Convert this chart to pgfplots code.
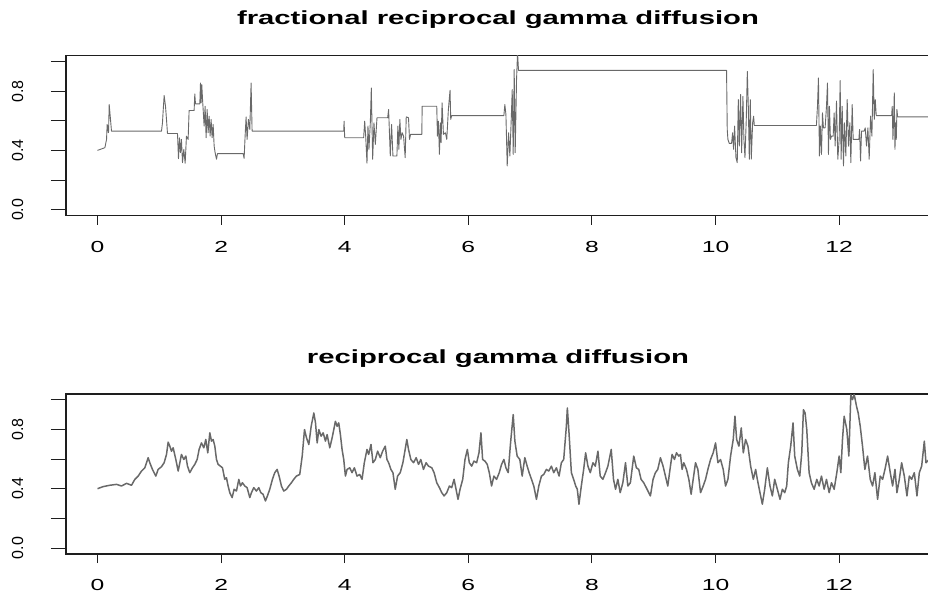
\documentclass[border=0pt]{standalone}
\usepackage{fontspec}
\setmainfont{Liberation Sans}
\newfontfamily\widefont{Liberation Sans}[FakeStretch=1.54]
\usepackage{pgfplots}
\pgfplotsset{compat=1.18}
\definecolor{serie}{RGB}{105,105,105}
\definecolor{frame}{RGB}{30,30,30}
\pgfplotsset{rstyle/.style={
  scale only axis, width=864pt, height=160pt,
  xmin=-0.51, xmax=13.47, ymin=-0.04, ymax=1.04,
  axis line style={line width=1.1pt, draw=frame},
  tick align=outside, xtick pos=bottom, ytick pos=left,
  xtick={0,2,4,6,8,10,12}, xticklabels={0,2,4,6,8,10,12},
  ytick={0,0.2,0.4,0.6,0.8,1}, yticklabels={0.0,,0.4,,0.8,},
  xtick style={line width=1.1pt, draw=frame, /pgfplots/major tick length=9pt},
  ytick style={line width=1.1pt, draw=frame, /pgfplots/major tick length=15pt},
  xticklabel style={font=\widefont\fontsize{16}{19}\selectfont, anchor=base, inner sep=0pt},
  yticklabel style={font=\fontsize{16}{19}\selectfont, rotate=90, anchor=base, inner sep=0pt},
  xticklabel shift=32.5pt, yticklabel shift=38.7pt,
  title style={font=\widefont\bfseries\fontsize{19}{23}\selectfont, at={(0.5,1)}, anchor=base, yshift=25pt},
}}
\begin{document}
\begin{tikzpicture}
\begin{axis}[rstyle, at={(66pt,-215.7pt)}, anchor=south west,
  title={fractional reciprocal gamma diffusion}]
\addplot[serie, line width=0.9pt, line join=round, no markers] coordinates {
(0,0.401) (0.119,0.419) (0.146,0.475) (0.156,0.576) (0.178,0.520) (0.189,0.710) (0.210,0.610) (0.226,0.531) (1.035,0.531) (1.051,0.587) (1.062,0.666) (1.078,0.771) (1.100,0.699) (1.116,0.610) (1.132,0.515) (1.294,0.515) (1.310,0.345) (1.326,0.486) (1.342,0.385) (1.358,0.475) (1.375,0.318) (1.396,0.408) (1.418,0.314) (1.439,0.497) (1.466,0.475) (1.482,0.670) (1.563,0.670) (1.574,0.782) (1.585,0.715) (1.655,0.715) (1.666,0.856) (1.677,0.722) (1.687,0.845) (1.698,0.755) (1.709,0.677) (1.725,0.565) (1.741,0.699) (1.757,0.486) (1.774,0.677) (1.790,0.520) (1.806,0.632) (1.822,0.497) (1.838,0.610) (1.854,0.486) (1.871,0.576) (1.887,0.430) (1.903,0.385) (1.925,0.341) (1.941,0.379) (2.356,0.379) (2.372,0.347) (2.388,0.497) (2.404,0.627) (2.420,0.475) (2.442,0.610) (2.464,0.542) (2.485,0.856) (2.501,0.531) (3.984,0.531) (3.989,0.598) (4.000,0.486) (4.306,0.486) (4.323,0.598) (4.339,0.497) (4.360,0.314) (4.376,0.565) (4.392,0.408) (4.414,0.587) (4.430,0.822) (4.452,0.341) (4.473,0.587) (4.495,0.441) (4.522,0.621) (4.694,0.621) (4.710,0.677) (4.737,0.363) (4.758,0.576) (4.780,0.363) (4.844,0.363) (4.860,0.565) (4.876,0.408) (4.892,0.610) (4.909,0.475) (4.930,0.520) (4.952,0.497) (4.978,0.352) (4.995,0.627) (5.032,0.621) (5.048,0.475) (5.065,0.509) (5.247,0.509) (5.253,0.699) (5.489,0.699) (5.500,0.497) (5.516,0.598) (5.532,0.374) (5.548,0.587) (5.559,0.453) (5.575,0.722) (5.597,0.509) (5.629,0.520) (5.651,0.475) (5.677,0.677) (5.704,0.807) (5.715,0.610) (5.731,0.636) (6.575,0.636) (6.591,0.710) (6.608,0.643) (6.629,0.296) (6.651,0.520) (6.672,0.363) (6.694,0.610) (6.710,0.811) (6.726,0.374) (6.742,0.946) (6.758,0.385) (6.780,0.878) (6.796,1.060) (6.812,0.941) (10.178,0.941) (10.189,0.542) (10.200,0.475) (10.222,0.448) (10.259,0.448) (10.276,0.520) (10.292,0.408) (10.308,0.565) (10.330,0.352) (10.351,0.318) (10.368,0.744) (10.384,0.430) (10.405,0.778) (10.422,0.385) (10.443,0.766) (10.459,0.475) (10.476,0.352) (10.497,0.610) (10.514,0.934) (10.530,0.699) (10.546,0.341) (10.562,0.744) (10.578,0.341) (10.600,0.587) (10.616,0.632) (10.627,0.569) (11.632,0.569) (11.649,0.699) (11.665,0.890) (11.681,0.363) (11.697,0.565) (11.714,0.374) (11.730,0.654) (11.746,0.553) (11.773,0.553) (11.795,0.699) (11.811,0.856) (11.827,0.374) (11.843,0.699) (11.859,0.475) (11.876,0.497) (11.903,0.497) (11.919,0.654) (11.935,0.430) (11.957,0.733) (11.978,0.341) (12.000,0.475) (12.016,0.872) (12.032,0.341) (12.049,0.699) (12.070,0.296) (12.086,0.587) (12.108,0.363) (12.130,0.744) (12.151,0.430) (12.173,0.587) (12.189,0.318) (12.211,0.710) (12.227,0.475) (12.319,0.475) (12.330,0.542) (12.346,0.329) (12.362,0.531) (12.405,0.531) (12.422,0.553) (12.443,0.430) (12.465,0.553) (12.486,0.341) (12.508,0.632) (12.530,0.497) (12.551,0.946) (12.568,0.610) (12.584,0.744) (12.600,0.636) (12.849,0.636) (12.859,0.699) (12.870,0.475) (12.881,0.610) (12.892,0.789) (12.903,0.408) (12.914,0.587) (12.924,0.475) (12.935,0.677) (12.946,0.627) (13.600,0.627)
};
\end{axis}
\begin{axis}[rstyle, at={(66pt,-554pt)}, anchor=south west,
  title={reciprocal gamma diffusion}]
\addplot[serie, line width=1.5pt, line join=round, no markers] coordinates {
(0,0.401) (0.092,0.415) (0.199,0.424) (0.307,0.430) (0.388,0.419) (0.469,0.437) (0.550,0.424) (0.604,0.464) (0.658,0.486) (0.712,0.520) (0.766,0.542) (0.819,0.610) (0.846,0.576) (0.889,0.531) (0.943,0.486) (0.981,0.531) (1.035,0.549) (1.078,0.576) (1.116,0.632) (1.143,0.715) (1.170,0.688) (1.197,0.654) (1.224,0.677) (1.267,0.598) (1.305,0.520) (1.332,0.576) (1.358,0.632) (1.396,0.598) (1.429,0.621) (1.456,0.553) (1.493,0.509) (1.536,0.542) (1.574,0.565) (1.612,0.598) (1.644,0.666) (1.682,0.710) (1.720,0.677) (1.752,0.733) (1.784,0.643) (1.817,0.778) (1.844,0.722) (1.871,0.733) (1.898,0.688) (1.925,0.598) (1.951,0.565) (1.989,0.553) (2.022,0.542) (2.059,0.464) (2.086,0.475) (2.113,0.419) (2.140,0.374) (2.178,0.341) (2.210,0.397) (2.248,0.385) (2.286,0.464) (2.313,0.419) (2.345,0.441) (2.383,0.419) (2.420,0.408) (2.464,0.341) (2.491,0.374) (2.528,0.408) (2.571,0.385) (2.609,0.408) (2.642,0.374) (2.679,0.363) (2.717,0.318) (2.749,0.352) (2.787,0.397) (2.830,0.464) (2.868,0.509) (2.906,0.531) (2.938,0.486) (2.976,0.419) (3.013,0.385) (3.057,0.397) (3.094,0.419) (3.137,0.441) (3.175,0.464) (3.218,0.486) (3.272,0.497) (3.312,0.621) (3.349,0.800) (3.382,0.744) (3.419,0.699) (3.457,0.822) (3.500,0.912) (3.527,0.845) (3.554,0.710) (3.581,0.800) (3.618,0.755) (3.651,0.778) (3.688,0.722) (3.715,0.766) (3.758,0.677) (3.796,0.744) (3.823,0.800) (3.849,0.856) (3.876,0.822) (3.903,0.845) (3.930,0.766) (3.957,0.666) (3.984,0.598) (4.011,0.486) (4.038,0.531) (4.081,0.542) (4.118,0.509) (4.156,0.542) (4.199,0.486) (4.242,0.497) (4.280,0.464) (4.317,0.576) (4.360,0.666) (4.387,0.632) (4.425,0.699) (4.457,0.576) (4.495,0.598) (4.532,0.654) (4.575,0.610) (4.613,0.654) (4.656,0.688) (4.683,0.598) (4.710,0.576) (4.747,0.531) (4.780,0.509) (4.817,0.397) (4.855,0.486) (4.898,0.509) (4.941,0.576) (4.978,0.666) (5.005,0.733) (5.032,0.666) (5.070,0.598) (5.113,0.576) (5.156,0.610) (5.194,0.565) (5.231,0.598) (5.274,0.531) (5.317,0.576) (5.355,0.553) (5.409,0.542) (5.446,0.509) (5.489,0.441) (5.532,0.408) (5.570,0.374) (5.608,0.352) (5.651,0.374) (5.694,0.419) (5.731,0.408) (5.769,0.464) (5.801,0.397) (5.833,0.329) (5.866,0.397) (5.909,0.464) (5.946,0.598) (5.984,0.666) (6.016,0.576) (6.054,0.553) (6.091,0.587) (6.134,0.576) (6.172,0.643) (6.204,0.778) (6.231,0.598) (6.269,0.587) (6.306,0.565) (6.339,0.509) (6.376,0.419) (6.414,0.486) (6.457,0.464) (6.500,0.509) (6.538,0.565) (6.575,0.598) (6.608,0.542) (6.645,0.509) (6.683,0.710) (6.726,0.901) (6.753,0.722) (6.790,0.621) (6.833,0.598) (6.871,0.486) (6.914,0.610) (6.952,0.553) (6.984,0.509) (7.022,0.464) (7.059,0.419) (7.102,0.329) (7.140,0.419) (7.183,0.486) (7.220,0.497) (7.263,0.531) (7.301,0.520) (7.344,0.553) (7.382,0.509) (7.425,0.542) (7.468,0.486) (7.505,0.576) (7.543,0.598) (7.586,0.822) (7.602,0.946) (7.629,0.778) (7.667,0.509) (7.704,0.464) (7.737,0.419) (7.763,0.397) (7.790,0.296) (7.828,0.419) (7.866,0.531) (7.898,0.643) (7.935,0.553) (7.973,0.509) (8.016,0.576) (8.054,0.553) (8.097,0.654) (8.134,0.486) (8.177,0.464) (8.220,0.509) (8.258,0.553) (8.312,0.666) (8.349,0.464) (8.382,0.397) (8.419,0.464) (8.457,0.374) (8.500,0.441) (8.543,0.576) (8.581,0.419) (8.622,0.441) (8.676,0.621) (8.719,0.542) (8.757,0.531) (8.795,0.464) (8.838,0.441) (8.892,0.397) (8.946,0.352) (8.989,0.464) (9.027,0.509) (9.065,0.531) (9.108,0.610) (9.151,0.553) (9.189,0.486) (9.227,0.419) (9.270,0.553) (9.297,0.632) (9.335,0.598) (9.368,0.643) (9.405,0.621) (9.432,0.632) (9.459,0.531) (9.486,0.576) (9.530,0.531) (9.568,0.464) (9.605,0.363) (9.638,0.464) (9.676,0.576) (9.714,0.531) (9.757,0.374) (9.800,0.419) (9.838,0.464) (9.876,0.531) (9.919,0.598) (9.962,0.643) (10.000,0.710) (10.038,0.576) (10.081,0.598) (10.124,0.531) (10.162,0.419) (10.200,0.464) (10.243,0.621) (10.286,0.733) (10.314,0.890) (10.341,0.733) (10.378,0.688) (10.416,0.811) (10.449,0.643) (10.486,0.733) (10.524,0.688) (10.568,0.553) (10.611,0.464) (10.649,0.531) (10.676,0.464) (10.719,0.374) (10.757,0.296) (10.795,0.397) (10.838,0.542) (10.881,0.419) (10.919,0.352) (10.957,0.464) (11.000,0.397) (11.043,0.329) (11.081,0.397) (11.119,0.374) (11.151,0.419) (11.178,0.576) (11.216,0.688) (11.254,0.845) (11.281,0.621) (11.324,0.531) (11.362,0.486) (11.395,0.643) (11.422,0.934) (11.449,0.912) (11.476,0.800) (11.514,0.509) (11.551,0.441) (11.595,0.397) (11.638,0.464) (11.676,0.419) (11.714,0.486) (11.757,0.397) (11.795,0.464) (11.838,0.374) (11.876,0.441) (11.919,0.397) (11.962,0.509) (12.000,0.621) (12.027,0.509) (12.054,0.733) (12.081,0.890) (12.124,0.800) (12.157,0.621) (12.189,1.035) (12.216,1.002) (12.243,1.038) (12.281,0.957) (12.308,0.912) (12.341,0.822) (12.378,0.688) (12.416,0.531) (12.459,0.621) (12.503,0.464) (12.541,0.419) (12.578,0.509) (12.622,0.329) (12.665,0.486) (12.703,0.464) (12.741,0.531) (12.784,0.621) (12.827,0.509) (12.865,0.419) (12.903,0.531) (12.935,0.374) (12.973,0.464) (13.011,0.576) (13.054,0.486) (13.097,0.352) (13.135,0.486) (13.173,0.464) (13.216,0.509) (13.259,0.352) (13.297,0.509) (13.335,0.553) (13.378,0.722) (13.405,0.576) (13.454,0.598)
};
\end{axis}
\pgfresetboundingbox
\useasboundingbox (0,0) rectangle (928pt,-599pt);
\end{tikzpicture}
\end{document}
